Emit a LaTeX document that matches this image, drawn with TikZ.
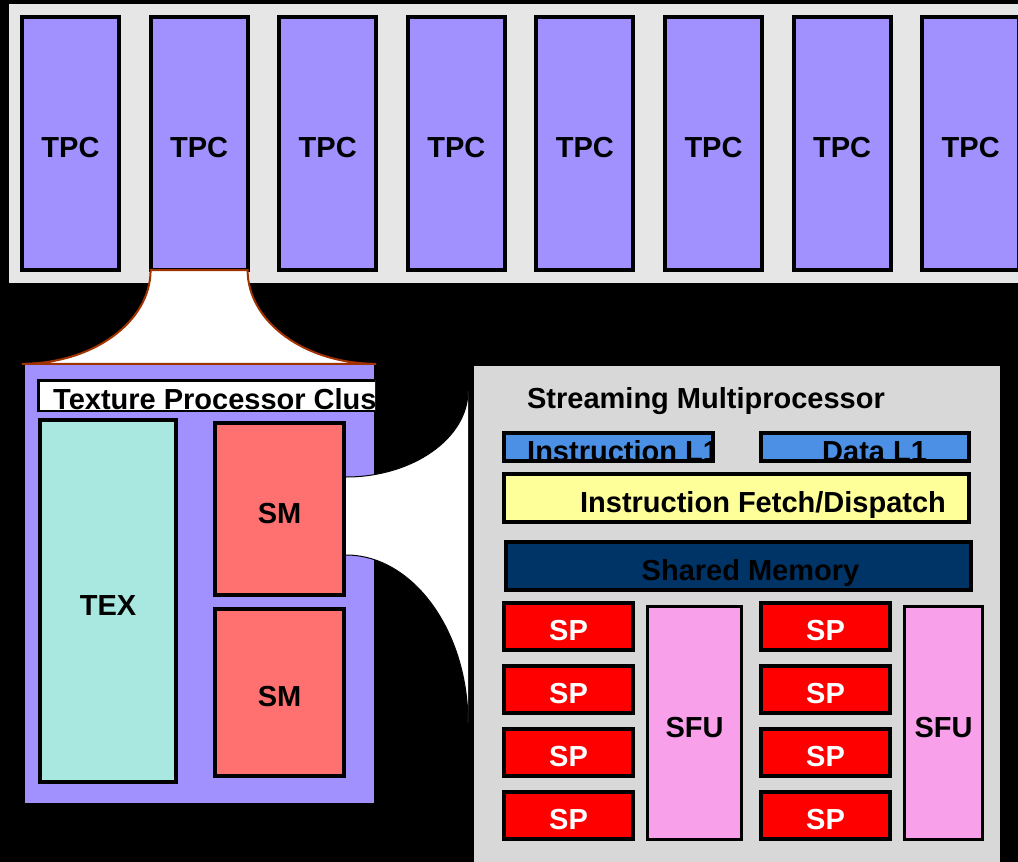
\documentclass[tikz,border=0pt]{standalone}
\usepackage{fontspec}
\setmainfont{Liberation Sans}
\usepackage{tikz}
\definecolor{TPCColor}{RGB}{160,145,255}
\definecolor{TEXColor}{RGB}{168,232,224}
\definecolor{SMColor}{RGB}{255,112,112}
\definecolor{SMBackColor}{RGB}{216,216,216}
\definecolor{TopBackColor}{RGB}{230,230,230}
\definecolor{CacheColor}{RGB}{76,144,230}
\definecolor{FetchColor}{RGB}{255,255,153}
\definecolor{SharedColor}{RGB}{0,51,102}
\definecolor{SPColor}{RGB}{255,0,0}
\definecolor{SFUColor}{RGB}{249,160,234}
\definecolor{FunnelColor}{RGB}{160,50,0}

\begin{document}
\begin{tikzpicture}[x=1pt,y=-1pt,font=\fontsize{29}{34}\selectfont\bfseries,
   blk/.style n args={3}{draw,line width=4pt,fill=#1,minimum width=#2pt,minimum height=#3pt,inner sep=0pt,rectangle,text height=28pt,text depth=0pt},
   txt/.style={inner sep=0pt},funnel/.style={draw=FunnelColor,line width=2pt,fill=white}]
\fill[black] (0,0) rectangle (1018,862);
\useasboundingbox (0,0) rectangle (1018,862);
\clip (0,0) rectangle (1018,862);
% row of TPCs
\fill[TopBackColor] (9,4) rectangle (1030,283);
\foreach \i in {0,...,7} {
   \node[blk={TPCColor}{97}{253}] (tpc\i) at (70.5+128.6*\i,143.5) {TPC};
}
% texture processor cluster
\node[fill=TPCColor,minimum width=349pt,minimum height=438pt,inner sep=0pt] (clu) at (199.5,584) {};
\begin{scope}
   \clip ([shift={(0,-20)}]clu.north west) rectangle ([shift={(1,0)}]clu.south east);
   \node[draw,line width=2.5pt,fill=white,minimum width=350pt,minimum height=30.5pt,inner sep=0pt,anchor=west] (ttl) at (37,395.5) {};
   \node[txt,anchor=base west] (ttlt) at (53,409) {Texture Processor Clus};
\end{scope}
\node[blk={TEXColor}{136}{362}] (tex) at (108,601) {TEX};
\node[blk={SMColor}{129}{172}] (sm1) at (279.5,509) {SM};
\node[blk={SMColor}{129}{167}] (sm2) at (279.5,692.5) {SM};
\coordinate (funtl) at ([shift={(2,-2)}]tpc1.south west);
\coordinate (funtr) at ([shift={(-2,-2)}]tpc1.south east);
\coordinate (funbl) at ([shift={(-3,-1)}]clu.north west);
\coordinate (funbr) at ([shift={(2,-1)}]clu.north east);
\draw[funnel] (funtl) .. controls +(0,52) and +(71,0) .. (funbl) -- (funbr)
   .. controls +(-71,0) and +(0,52) .. (funtr) -- cycle;
% streaming multiprocessor
\node[fill=SMBackColor,minimum width=526pt,minimum height=520pt,inner sep=0pt,anchor=north west] (smb) at (474,366) {};
\coordinate (smtop) at (468,391);
\coordinate (smbot) at (468,723);
\fill[white] ([shift={(0,-32)}]sm1.east) .. controls +(67,0) and +(0,47) .. (smtop) -- (smbot)
   .. controls +(0,-92) and +(67,0) .. ([shift={(0,46)}]sm1.east) -- cycle;
\draw[line width=1pt] ([shift={(0,-32)}]sm1.east) .. controls +(67,0) and +(0,47) .. (smtop);
\draw[line width=1pt] ([shift={(0,46)}]sm1.east) .. controls +(67,0) and +(0,-92) .. (smbot);
\node[txt,anchor=base] (smt) at (706,408) {Streaming Multiprocessor};
\node[blk={CacheColor}{209}{24}] (il1) at (608.5,447) {};
\node[blk={CacheColor}{208}{24}] (dl1) at (865,447) {};
\foreach \n/\x/\t in {il1/527/Instruction L1,dl1/822/Data L1} {
   \begin{scope}
      \clip ([shift={(4,4)}]\n.north west) rectangle ([shift={(-4,-4)}]\n.south east);
      \node[txt,anchor=base west] (\n t) at (\x,461) {\t};
   \end{scope}
}
\node[blk={FetchColor}{465}{48}] (ifd) at (736.5,498) {};
\node[txt,anchor=base] (ifdt) at (763,512) {Instruction Fetch/Dispatch};
\node[blk={SharedColor}{465}{48}] (shm) at (738.5,566) {};
\node[txt,anchor=base] (shmt) at (750.5,580) {Shared Memory};
\foreach \c/\x in {0/568.5,1/825.5} {
   \foreach \r in {0,...,3} {
      \node[blk={SPColor}{129}{47},text=white] (sp\c\r) at (\x,626.5+63*\r) {SP};
   }
}
\node[blk={SFUColor}{94}{233},line width=3pt] (sfu0) at (694.5,723) {SFU};
\node[blk={SFUColor}{78}{233},line width=3pt] (sfu1) at (943.5,723) {SFU};
\end{tikzpicture}
\end{document}
